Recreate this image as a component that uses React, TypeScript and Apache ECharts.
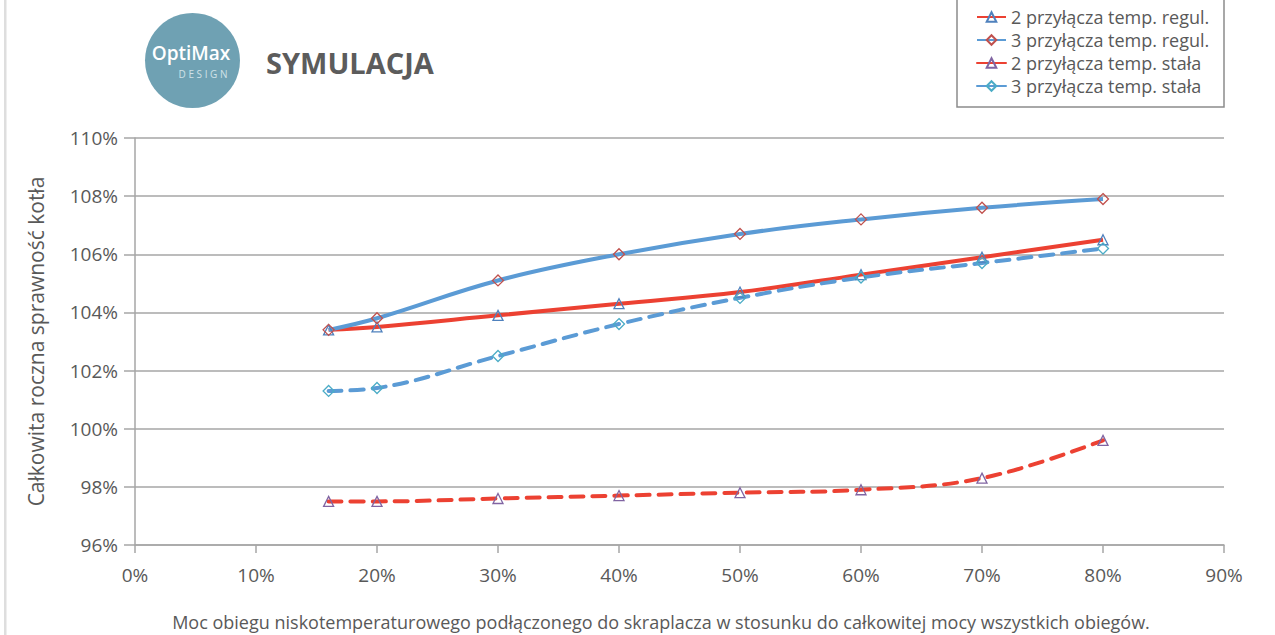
import React, { useEffect, useRef } from "react";
import * as echarts from "echarts";

const xValues = [16, 20, 30, 40, 50, 60, 70, 80];
const seriesNames = [
  "2 przyłącza temp. regul.",
  "3 przyłącza temp. regul.",
  "2 przyłącza temp. stała",
  "3 przyłącza temp. stała",
];
const twoRegul = [103.4, 103.5, 103.9, 104.3, 104.7, 105.3, 105.9, 106.5];
const threeRegul = [103.4, 103.8, 105.1, 106.0, 106.7, 107.2, 107.6, 107.9];
const twoStala = [97.5, 97.5, 97.6, 97.7, 97.8, 97.9, 98.3, 99.6];
const threeStala = [101.3, 101.4, 102.5, 103.6, 104.5, 105.2, 105.7, 106.2];

const xTitle =
  "Moc obiegu niskotemperaturowego podłączonego do skraplacza w stosunku do całkowitej mocy wszystkich obiegów.";
const yTitle = "Całkowita roczna sprawność kotła";
const pageTitle = "SYMULACJA";

const RED = "#ec4132";
const BLUE = "#5b9bd5";
const FONT = "'Open Sans', sans-serif";
const TEXT = "#595959";
const GRID = "#a6a6a6";

function pairs(vals: number[]) {
  return xValues.map((x, i) => [x, vals[i]]);
}

export default function App() {
  const ref = useRef<HTMLDivElement>(null);
  useEffect(() => {
    document.body.style.margin = "0";
    const chart = echarts.init(ref.current!, null, { renderer: "svg" });
    const mk = (
      name: string,
      vals: number[],
      color: string,
      dashed: boolean,
      symbol: string,
      markColor: string,
      size: number
    ) => ({
      name,
      type: "line",
      data: pairs(vals),
      smooth: 0.4,
      symbol,
      symbolSize: size,
      showAllSymbol: true,
      z: 2,
      lineStyle: {
        color,
        width: 4,
        type: dashed ? [13, 9] : "solid",
        cap: dashed ? "round" : "butt",
      },
      itemStyle: {
        color: "rgba(255,255,255,0)",
        borderColor: markColor,
        borderWidth: 1.3,
      },
    });
    chart.setOption({
      animation: false,
      textStyle: { fontFamily: FONT },
      grid: { left: 135, right: 51, top: 138, bottom: 90, containLabel: false },
      graphic: [
        {
          type: "rect",
          shape: { x: 4, y: 0, width: 2.5, height: 635 },
          style: { fill: "#dedede" },
          silent: true,
        },
        {
          type: "circle",
          shape: { cx: 192.5, cy: 60.5, r: 47.5 },
          style: { fill: "#6fa1b3" },
        },
        {
          type: "text",
          x: 191,
          y: 53,
          style: {
            text: "OptiMax",
            fill: "#ffffff",
            font: "600 19px 'Open Sans', sans-serif",
            align: "center",
            verticalAlign: "middle",
          },
        },
        {
          type: "text",
          x: 203,
          y: 74,
          style: {
            text: "D E S I G N",
            fill: "#cfe1e8",
            font: "10px 'Open Sans', sans-serif",
            align: "center",
            verticalAlign: "middle",
          },
        },
        {
          type: "text",
          x: 266,
          y: 62,
          style: {
            text: pageTitle,
            fill: "#5c5c5c",
            font: "bold 29px 'Open Sans', sans-serif",
            align: "left",
            verticalAlign: "middle",
          },
        },
        {
          type: "rect",
          shape: { x: 957, y: -5, width: 267, height: 112 },
          style: { fill: "#ffffff", stroke: "#8c8c8c", lineWidth: 1.5 },
          z: -1,
        },
        {
          type: "text",
          x: 661,
          y: 622,
          style: {
            text: xTitle,
            fill: TEXT,
            font: "18px 'Open Sans', sans-serif",
            align: "center",
            verticalAlign: "middle",
          },
        },
      ],
      legend: {
        orient: "vertical",
        left: 971,
        top: 3,
        itemWidth: 29,
        itemHeight: 12,
        itemGap: 5,
        textStyle: { fontSize: 18, color: TEXT, fontFamily: FONT },
        lineStyle: { type: "solid" },
        data: seriesNames,
      },
      xAxis: {
        type: "value",
        min: 0,
        max: 90,
        interval: 10,
        axisLine: { show: true, lineStyle: { color: GRID, width: 1.5 } },
        axisTick: { show: true, length: 8, lineStyle: { color: GRID, width: 1.5 } },
        splitLine: { show: false },
        axisLabel: {
          formatter: "{value}%",
          fontSize: 19,
          color: TEXT,
          margin: 20,
          fontFamily: FONT,
        },
      },
      yAxis: {
        type: "value",
        min: 96,
        max: 110,
        interval: 2,
        name: yTitle,
        nameLocation: "middle",
        nameGap: 89,
        nameTextStyle: { fontSize: 21, color: TEXT, fontFamily: FONT },
        axisLine: { show: true, lineStyle: { color: GRID, width: 1.5 } },
        axisTick: { show: true, length: 11, lineStyle: { color: GRID, width: 1.5 } },
        splitLine: { show: true, lineStyle: { color: GRID, width: 1.5 } },
        axisLabel: {
          formatter: "{value}%",
          fontSize: 19,
          color: TEXT,
          margin: 17,
          fontFamily: FONT,
        },
      },
      series: [
        mk(seriesNames[0], twoRegul, RED, false, "triangle", "#4f81bd", 10),
        mk(seriesNames[1], threeRegul, BLUE, false, "diamond", "#c0504d", 11),
        mk(seriesNames[2], twoStala, RED, true, "triangle", "#8064a2", 10),
        mk(seriesNames[3], threeStala, BLUE, true, "diamond", "#4bacc6", 11),
      ],
    });
    return () => chart.dispose();
  }, []);
  return (
    <div
      ref={ref}
      style={{ position: "fixed", left: 0, top: 0, width: 1275, height: 635, background: "#fff" }}
    />
  );
}
